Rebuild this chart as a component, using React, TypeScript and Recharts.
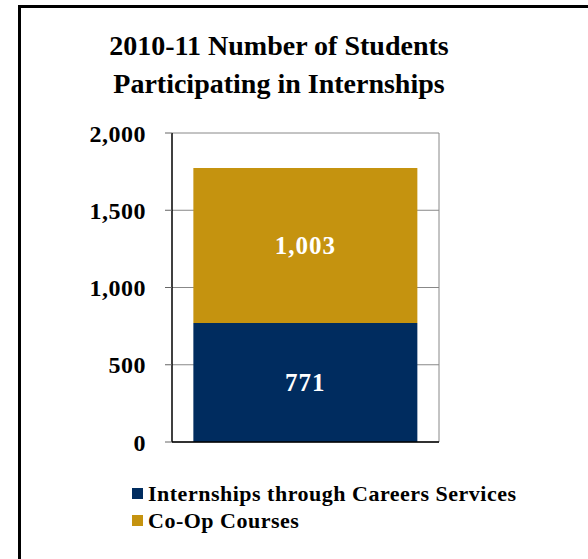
import { BarChart, Bar, XAxis, YAxis, CartesianGrid, Legend, LabelList } from 'recharts';

const categories = ['2010-11'];
const careersServices = [771];
const coOpCourses = [1003];
const yTicks = [0, 500, 1000, 1500, 2000];
const seriesNames = ['Internships through Careers Services', 'Co-Op Courses'];

const data = categories.map((name, i) => ({
  name,
  careers: careersServices[i],
  coop: coOpCourses[i],
}));

const NAVY = '#002c5f';
const GOLD = '#c5930f';
const FONT = "'Liberation Serif', 'Times New Roman', serif";

const fmt = (v: number) => v.toLocaleString('en-US');

const renderLegend = () => (
  <div style={{ fontFamily: FONT, fontWeight: 'bold', fontSize: 22, letterSpacing: 0.5, color: '#000' }}>
    {[NAVY, GOLD].map((c, i) => (
      <div key={i} style={{ display: 'flex', alignItems: 'center', height: 27 }}>
        <span style={{ width: 11, height: 11, background: c, marginRight: 5, display: 'inline-block' }} />
        <span>{seriesNames[i]}</span>
      </div>
    ))}
  </div>
);

const labelStyle = { fontFamily: FONT, fontWeight: 'bold', fontSize: 25, letterSpacing: 1 };

export default function App() {
  return (
    <div style={{ position: 'absolute', left: 0, top: 0, width: 588, height: 559, background: '#fff', overflow: 'hidden' }}>
      <div style={{ position: 'absolute', left: 18, top: 5, width: 620, height: 620, borderTop: '3px solid #000', borderLeft: '3px solid #000' }} />
      <div
        style={{
          position: 'absolute',
          left: 0,
          width: 558,
          top: 27,
          textAlign: 'center',
          fontFamily: FONT,
          fontWeight: 'bold',
          fontSize: 28,
          lineHeight: '38px',
          color: '#000',
        }}
      >
        2010-11 Number of Students
        <br />
        Participating in Internships
      </div>
      <div style={{ position: 'absolute', left: 0, top: 0 }}>
        <BarChart
          width={588}
          height={559}
          data={data}
          barCategoryGap="8%"
          margin={{ top: 133, right: 149, bottom: 109, left: 0 }}
        >
          <CartesianGrid
            stroke="#888"
            vertical
            verticalCoordinatesGenerator={({ offset }: any) => [offset.left + offset.width]}
          />
          <XAxis dataKey="name" tick={false} tickLine={false} axisLine={{ stroke: '#000', strokeWidth: 1.5 }} height={8} />
          <YAxis
            width={172}
            domain={[0, 2000]}
            ticks={yTicks}
            tickFormatter={fmt}
            tickSize={7}
            tickMargin={19}
            axisLine={{ stroke: '#000', strokeWidth: 1.5 }}
            tickLine={{ stroke: '#666' }}
            tick={{ fill: '#000', fontFamily: FONT, fontWeight: 'bold', fontSize: 24, letterSpacing: 0.5 }}
            interval={0}
          />
          <Legend
            layout="vertical"
            align="center"
            verticalAlign="middle"
            content={renderLegend}
            wrapperStyle={{ position: 'absolute', left: 132, top: 480, width: 440 }}
          />
          <Bar dataKey="careers" name={seriesNames[0]} stackId="a" fill={NAVY} isAnimationActive={false}>
            <LabelList dataKey="careers" position="center" formatter={(v: any) => fmt(Number(v))} fill="#fff" style={labelStyle} />
          </Bar>
          <Bar dataKey="coop" name={seriesNames[1]} stackId="a" fill={GOLD} isAnimationActive={false}>
            <LabelList dataKey="coop" position="center" formatter={(v: any) => fmt(Number(v))} fill="#fff" style={labelStyle} />
          </Bar>
        </BarChart>
      </div>
    </div>
  );
}
